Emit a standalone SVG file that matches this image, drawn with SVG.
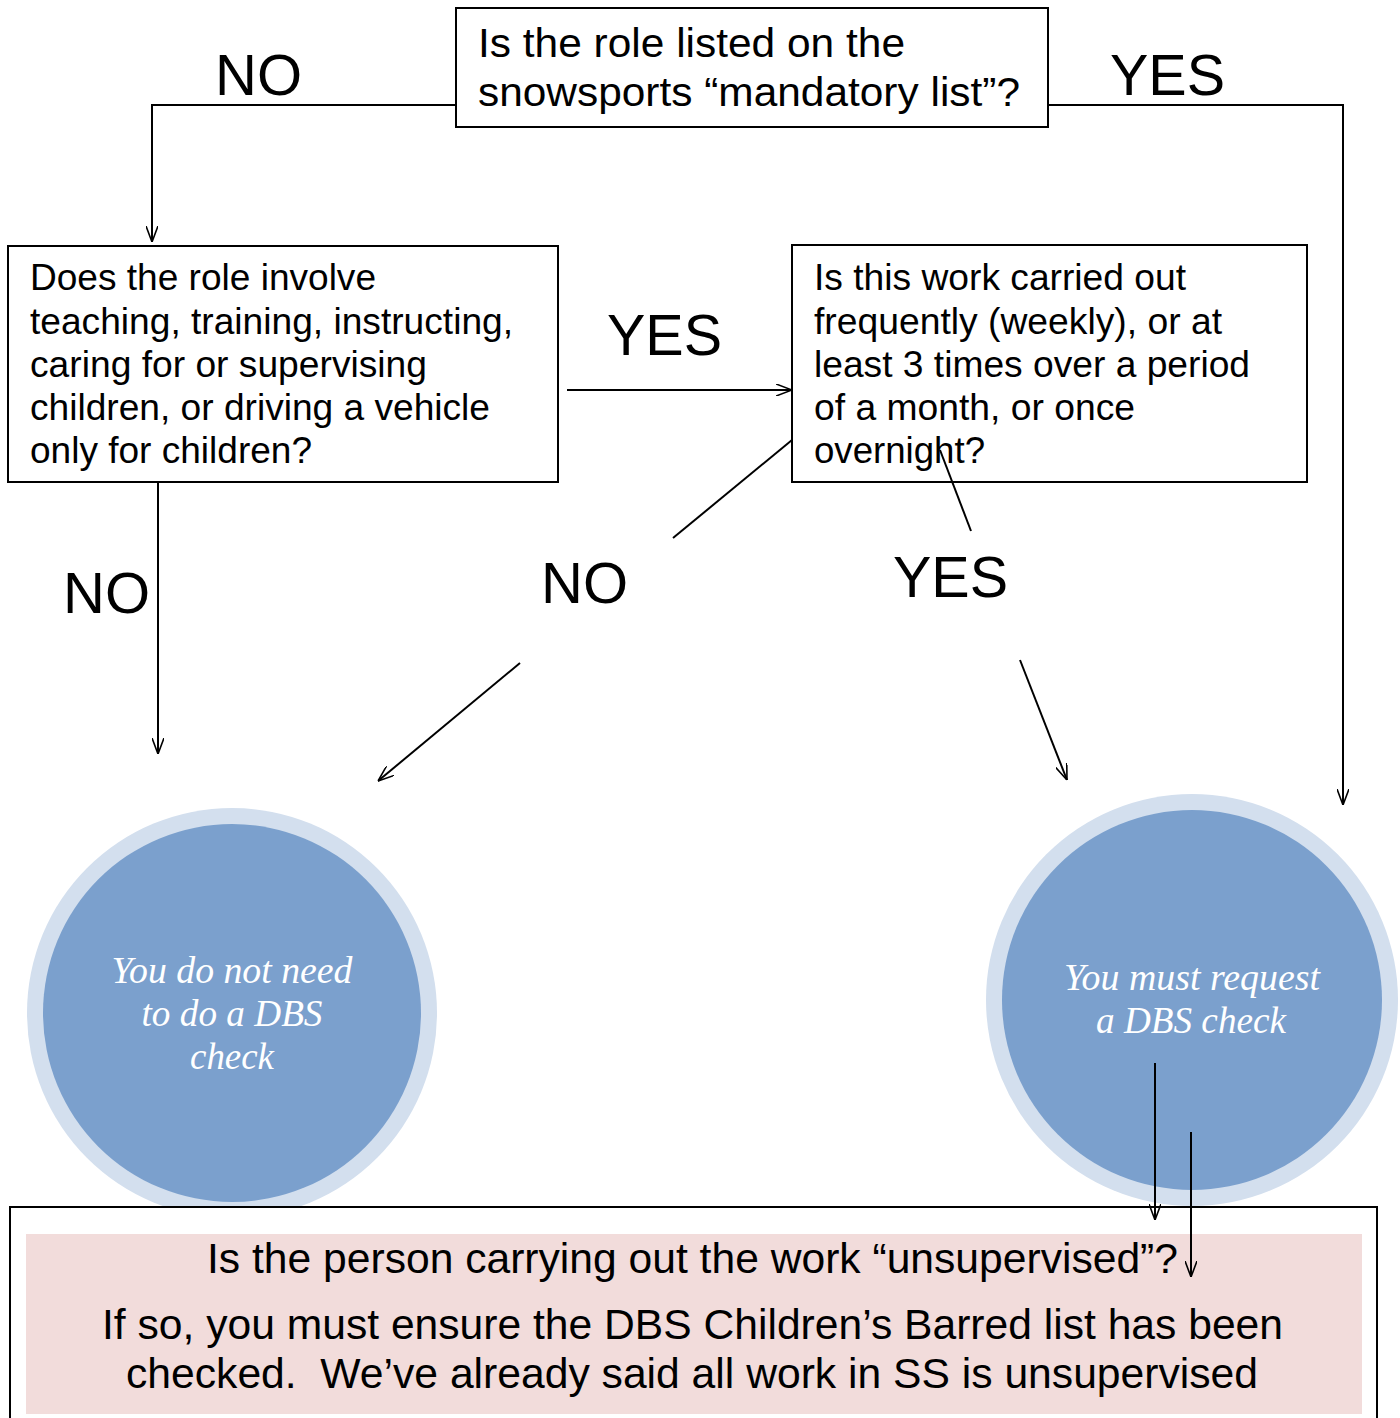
<svg xmlns="http://www.w3.org/2000/svg" width="1400" height="1418" viewBox="0 0 1400 1418">
<style>
.box{fill:#fff;stroke:#000;stroke-width:2}
.t{font-family:"Liberation Sans",Arial,sans-serif;fill:#000}
.q{font-size:36px}
.lbl{font-size:58px}
.ct{font-family:"Liberation Serif","Times New Roman",serif;font-style:italic;font-size:37px;fill:#fff;text-anchor:middle}
.c{fill:none;stroke:#000;stroke-width:2}
.ca{fill:none;stroke:#000;stroke-width:2;marker-end:url(#ah)}
</style>
<defs>
<marker id="ah" viewBox="0 0 16 12" refX="16" refY="6" markerWidth="16" markerHeight="12" markerUnits="userSpaceOnUse" orient="auto">
<path d="M0,0 L16,6 L0,12" fill="none" stroke="#000" stroke-width="1.6"/>
</marker>
</defs>
<rect width="1400" height="1418" fill="#fff"/>

<g id="n-mandatory">
<rect class="box" x="456" y="8" width="592" height="119"/>
<text class="t" font-size="41" x="478" y="57" textLength="427" lengthAdjust="spacingAndGlyphs">Is the role listed on the</text>
<text class="t" font-size="41" x="478" y="106" textLength="542" lengthAdjust="spacingAndGlyphs">snowsports “mandatory list”?</text>
</g>

<g id="n-role">
<rect class="box" x="8" y="246" width="550" height="236"/>
<text class="t q" x="30" y="290" textLength="346" lengthAdjust="spacingAndGlyphs">Does the role involve</text>
<text class="t q" x="30" y="334" textLength="483" lengthAdjust="spacingAndGlyphs">teaching, training, instructing,</text>
<text class="t q" x="30" y="377" textLength="397" lengthAdjust="spacingAndGlyphs">caring for or supervising</text>
<text class="t q" x="30" y="420" textLength="460" lengthAdjust="spacingAndGlyphs">children, or driving a vehicle</text>
<text class="t q" x="30" y="463" textLength="282" lengthAdjust="spacingAndGlyphs">only for children?</text>
</g>

<g id="n-frequency">
<rect class="box" x="792" y="245" width="515" height="237"/>
<text class="t q" x="814" y="290" textLength="372" lengthAdjust="spacingAndGlyphs">Is this work carried out</text>
<text class="t q" x="814" y="334" textLength="408" lengthAdjust="spacingAndGlyphs">frequently (weekly), or at</text>
<text class="t q" x="814" y="377" textLength="436" lengthAdjust="spacingAndGlyphs">least 3 times over a period</text>
<text class="t q" x="814" y="420" textLength="321" lengthAdjust="spacingAndGlyphs">of a month, or once</text>
<text class="t q" x="814" y="463" textLength="171" lengthAdjust="spacingAndGlyphs">overnight?</text>
</g>

<g id="n-no-dbs">
<circle cx="232" cy="1013" r="205" fill="#D3DFEE"/>
<circle cx="232" cy="1013" r="189" fill="#7BA0CD"/>
<text class="ct" x="232" y="983" textLength="241" lengthAdjust="spacingAndGlyphs">You do not need</text>
<text class="ct" x="232" y="1026" textLength="181" lengthAdjust="spacingAndGlyphs">to do a DBS</text>
<text class="ct" x="232" y="1069" textLength="84" lengthAdjust="spacingAndGlyphs">check</text>
</g>

<g id="n-dbs">
<circle cx="1192" cy="1000" r="206" fill="#D3DFEE"/>
<circle cx="1192" cy="1000" r="190" fill="#7BA0CD"/>
<text class="ct" x="1192" y="990" textLength="256" lengthAdjust="spacingAndGlyphs">You must request</text>
<text class="ct" x="1191" y="1033" textLength="190" lengthAdjust="spacingAndGlyphs">a DBS check</text>
</g>

<g id="n-unsupervised">
<rect x="10" y="1207" width="1367" height="240" fill="#fff" stroke="#000" stroke-width="2"/>
<rect x="26" y="1234" width="1336" height="180" fill="#F2DCDB"/>
<text class="t" font-size="42" x="692.5" y="1273" text-anchor="middle" textLength="971" lengthAdjust="spacingAndGlyphs">Is the person carrying out the work “unsupervised”?</text>
<text class="t" font-size="42" x="692.5" y="1339" text-anchor="middle" textLength="1181" lengthAdjust="spacingAndGlyphs">If so, you must ensure the DBS Children’s Barred list has been</text>
<text class="t" font-size="42" x="692" y="1388" text-anchor="middle" textLength="1132" lengthAdjust="spacingAndGlyphs" xml:space="preserve">checked.  We’ve already said all work in SS is unsupervised</text>
</g>

<g id="labels">
<text class="t lbl" x="215" y="95" textLength="87" lengthAdjust="spacingAndGlyphs">NO</text>
<text class="t lbl" x="1110" y="95" textLength="115" lengthAdjust="spacingAndGlyphs">YES</text>
<text class="t lbl" x="607" y="355" textLength="115" lengthAdjust="spacingAndGlyphs">YES</text>
<text class="t lbl" x="63" y="613" textLength="87" lengthAdjust="spacingAndGlyphs">NO</text>
<text class="t lbl" x="541" y="603" textLength="87" lengthAdjust="spacingAndGlyphs">NO</text>
<text class="t lbl" x="893" y="597" textLength="115" lengthAdjust="spacingAndGlyphs">YES</text>
</g>

<g id="connectors">
<polyline class="ca" points="456,105 152,105 152,242"/>
<polyline class="ca" points="1048,105 1343,105 1343,805"/>
<line class="ca" x1="567" y1="390" x2="792" y2="390"/>
<line class="ca" x1="158" y1="482" x2="158" y2="754"/>
<line class="c" x1="792" y1="440" x2="673" y2="538"/>
<line class="ca" x1="520" y1="663" x2="378" y2="781"/>
<line class="c" x1="940" y1="450" x2="971" y2="531"/>
<line class="ca" x1="1020" y1="660" x2="1067" y2="780"/>
<line class="ca" x1="1155" y1="1063" x2="1155" y2="1220"/>
<line class="ca" x1="1191" y1="1132" x2="1191" y2="1277"/>
</g>
</svg>
